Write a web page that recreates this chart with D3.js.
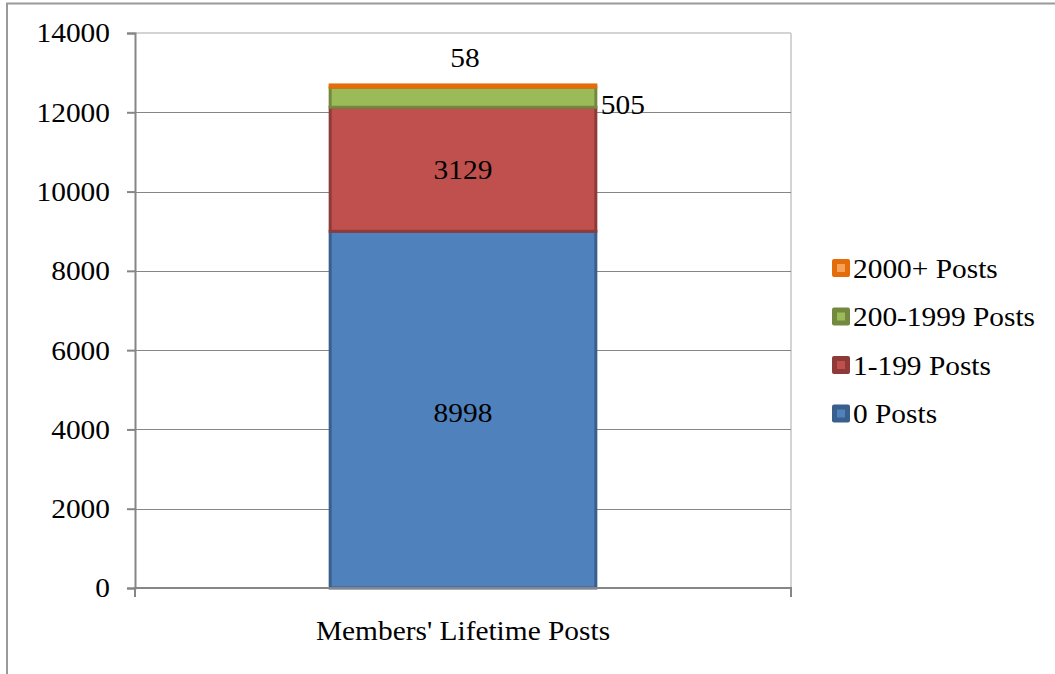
<!DOCTYPE html>
<html>
<head>
<meta charset="utf-8">
<script src="https://cdn.jsdelivr.net/npm/d3@7"></script>
<style>
  html, body { margin: 0; padding: 0; background: #fff; }
  svg { display: block; }
  svg text { font-family: 'Liberation Serif', Tinos, 'Times New Roman', Times, 'DejaVu Serif', serif !important; fill: #000; }
</style>
</head>
<body>
<svg id="chart" width="1055" height="674"></svg>
<script>
// ---- data ----
const categories = ["Members' Lifetime Posts"];
const seriesNames = ["0 Posts", "1-199 Posts", "200-1999 Posts", "2000+ Posts"];
const seriesValues = [[8998], [3129], [505], [58]];
const yTicks = [0, 2000, 4000, 6000, 8000, 10000, 12000, 14000];
const fillColors = ["#4F81BD", "#C0504D", "#9BBB59", "#E46C0A"];
const strokeColors = ["#3A5F8C", "#8E3A38", "#73893F", "#E46C0A"];
const legendInner = ["#4F81BD", "#C0504D", "#9BBB59", "#F7A15A"];
const legendOuter = ["#3A5F8C", "#8E3A38", "#73893F", "#E46C0A"];

const FONT = "'Liberation Serif', Tinos, 'Times New Roman', Times, 'DejaVu Serif', serif";
const SX = 1.05; // horizontal stretch of the reference's text
const svg = d3.select("#chart");

// helper: place a text at (tx,ty) with horizontal stretch
function placeText(sel, tx, ty) {
  return sel.attr("x", 0).attr("y", 0).attr("transform", `translate(${tx},${ty}) scale(${SX},1)`);
}

// outer frame
svg.append("rect").attr("x", 7).attr("y", 3.5).attr("width", 1100).attr("height", 700)
  .attr("fill", "none").attr("stroke", "#9a9a9a").attr("stroke-width", 2);

const plot = { left: 135, right: 791, top: 33, bottom: 588 };

const x = d3.scaleBand().domain(categories).range([plot.left, plot.right]).paddingInner(0).paddingOuter(0);
const y = d3.scaleLinear().domain([0, 14000]).range([plot.bottom, plot.top]);

// plot border (light)
svg.append("line").attr("x1", plot.left).attr("x2", plot.right).attr("y1", plot.top).attr("y2", plot.top)
  .attr("stroke", "#d4d4d4").attr("stroke-width", 2);
svg.append("line").attr("x1", plot.right).attr("x2", plot.right).attr("y1", plot.top).attr("y2", plot.bottom)
  .attr("stroke", "#d4d4d4").attr("stroke-width", 2);

// gridlines
svg.append("g").selectAll("line").data(yTicks.filter(d => d > 0 && d < 14000)).join("line")
  .attr("x1", plot.left).attr("x2", plot.right)
  .attr("y1", d => Math.round(y(d)) + 0.5).attr("y2", d => Math.round(y(d)) + 0.5)
  .attr("stroke", "#868686").attr("stroke-width", 1);

// y axis
const yAxis = d3.axisLeft(y).tickValues(yTicks).tickSize(8).tickPadding(17).tickFormat(d3.format("d"));
const gy = svg.append("g").attr("transform", `translate(${plot.left},0)`).call(yAxis)
  .attr("font-family", FONT).attr("font-size", 28);
gy.select(".domain").attr("stroke", "#868686").attr("stroke-width", 2);
gy.selectAll(".tick line").attr("stroke", "#868686").attr("stroke-width", 2);
gy.selectAll(".tick text").attr("font-size", 28).attr("fill", "#000")
  .each(function() {
    const t = d3.select(this);
    const tx = +t.attr("x");
    t.attr("x", 0).attr("transform", `translate(${tx},0) scale(${SX},1)`);
  });

// stacked bars
const stackData = [Object.fromEntries(seriesNames.map((s, i) => [s, seriesValues[i][0]]))];
const stacked = d3.stack().keys(seriesNames)(stackData);

const barW = x.bandwidth() * 0.405;
const bx = x(categories[0]) + (x.bandwidth() - barW) / 2;

const gBars = svg.append("g");
stacked.forEach((layer, i) => {
  const d = layer[0];
  gBars.append("rect")
    .attr("x", bx).attr("width", barW)
    .attr("y", y(d[1])).attr("height", y(d[0]) - y(d[1]))
    .attr("fill", fillColors[i])
    .attr("stroke", strokeColors[i]).attr("stroke-width", 3);
});

// x axis
const xAxis = d3.axisBottom(x).tickSize(0).tickPadding(32);
const gx = svg.append("g").attr("transform", `translate(0,${plot.bottom})`).call(xAxis)
  .attr("font-family", FONT).attr("font-size", 28);
gx.select(".domain").remove();
gx.selectAll(".tick text").attr("font-size", 28).attr("fill", "#000")
  .each(function() {
    const t = d3.select(this);
    const ty = +t.attr("y");
    t.attr("y", 0).attr("transform", `translate(0,${ty}) scale(${SX},1)`);
  });
svg.append("line").attr("x1", plot.left - 1).attr("x2", plot.right + 1).attr("y1", plot.bottom).attr("y2", plot.bottom)
  .attr("stroke", "#868686").attr("stroke-width", 2);
[plot.left, plot.right].forEach(px => {
  svg.append("line").attr("x1", px).attr("x2", px).attr("y1", plot.bottom).attr("y2", plot.bottom + 9)
    .attr("stroke", "#868686").attr("stroke-width", 2);
});

// data labels
const cx = x(categories[0]) + x.bandwidth() / 2;
const labels = svg.append("g").attr("font-family", FONT).attr("font-size", 28);
[0, 1].forEach(i => {
  const d = stacked[i][0];
  placeText(labels.append("text"), cx, (y(d[0]) + y(d[1])) / 2 + (i === 0 ? 3 : 0))
    .attr("text-anchor", "middle").attr("dominant-baseline", "central")
    .text(seriesValues[i][0]);
});
{
  const d = stacked[2][0];
  placeText(labels.append("text"), bx + barW + 5, (y(d[0]) + y(d[1])) / 2 + 7)
    .attr("dominant-baseline", "central").text(seriesValues[2][0]);
}
{
  const d = stacked[3][0];
  placeText(labels.append("text"), cx + 2, y(d[1]) - 28)
    .attr("text-anchor", "middle").attr("dominant-baseline", "central")
    .text(seriesValues[3][0]);
}

// legend
const legendOrder = [3, 2, 1, 0];
const lg = svg.append("g").attr("font-family", FONT).attr("font-size", 28);
legendOrder.forEach((si, row) => {
  const ly = 268 + row * 48.5;
  lg.append("rect").attr("x", 832).attr("y", ly - 9).attr("width", 18).attr("height", 18)
    .attr("rx", 2).attr("fill", legendOuter[si]);
  lg.append("rect").attr("x", 837).attr("y", ly - 4).attr("width", 8).attr("height", 8)
    .attr("fill", legendInner[si]);
  placeText(lg.append("text"), 853, ly).attr("dominant-baseline", "central")
    .text(seriesNames[si]);
});
</script>
</body>
</html>
